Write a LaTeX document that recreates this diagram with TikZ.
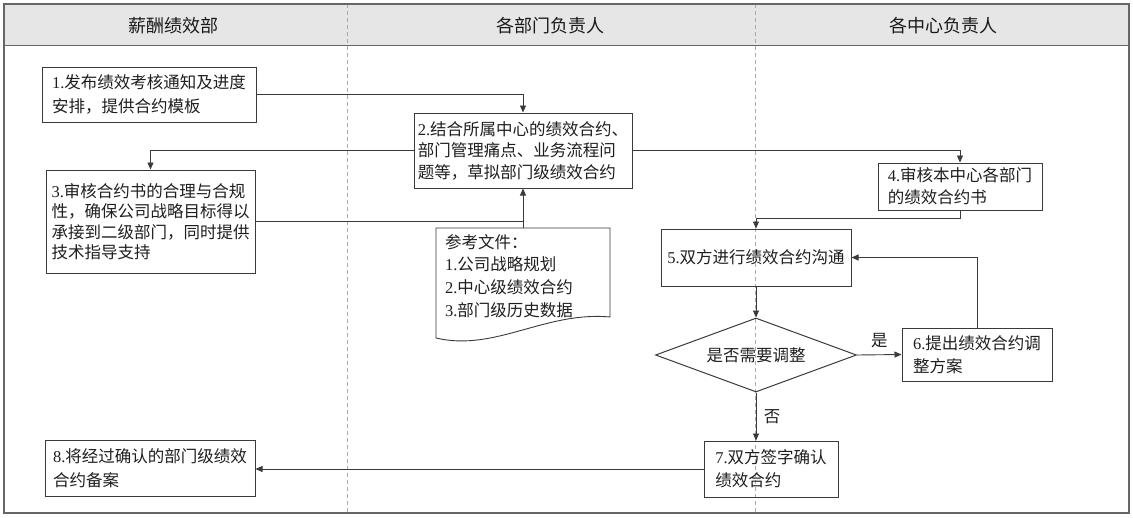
\documentclass[tikz,border=0pt]{standalone}
\usepackage{fontspec}
\setmainfont{Liberation Serif}
\newfontfamily\cjk{Noto Sans CJK SC}
\usetikzlibrary{arrows.meta,shapes.geometric,calc}
\newcommand\zh[1]{{\cjk #1}}
\definecolor{linec}{HTML}{3A3A3A}
\definecolor{framec}{HTML}{666666}
\definecolor{headc}{HTML}{E6E6E6}
\definecolor{lanec}{HTML}{AAAAAA}
\definecolor{txtc}{HTML}{1E1E1E}
\begin{document}
\begin{tikzpicture}[x=1pt,y=-1pt,
  box/.style={draw=linec, line width=1pt, rectangle, align=left, inner sep=0pt, text=txtc},
  fs/.style={font=\fontsize{16.5}{#1}\selectfont},
  arr/.style={draw=linec, line width=0.9pt, -{Triangle[length=7pt,width=6pt]}},
  ln/.style={draw=linec, line width=0.9pt},
  lbl/.style={text=txtc, font=\cjk\fontsize{16.5}{20}\selectfont},
  head/.style={font=\cjk\fontsize{18}{20}\selectfont, text=black!90}]
\useasboundingbox (0,0) rectangle (1133,517);
% frame and header
\fill[headc] (4,4) rectangle (1129,45);
\draw[lanec, line width=0.6pt, dash pattern=on 4pt off 3pt] (347,4) -- (347,513) (755,4) -- (755,513);
\draw[framec, line width=1pt] (4,45) -- (1129,45);
\draw[framec, line width=1.6pt] (4,4) rectangle (1129,513);
\node[head] (h1) at (173,26) {薪酬绩效部};
\node[head] (h2) at (550,26) {各部门负责人};
\node[head] (h3) at (943,26) {各中心负责人};
% boxes
\node[box, fs=24, minimum width=214pt, minimum height=55pt] (b1) at (149,94.5)
  {1.\zh{发布绩效考核通知及进度}\\\zh{安排，提供合约模板}};
\node[box, fs=21.5, minimum width=218pt, minimum height=75pt] (b2) at (523,150.5)
  {2.\zh{结合所属中心的绩效合约、}\\\zh{部门管理痛点、业务流程问}\\\zh{题等，草拟部门级绩效合约}};
\node[box, fs=20.5, minimum width=209pt, minimum height=103pt] (b3) at (150.5,221.5)
  {3.\zh{审核合约书的合理与合规}\\\zh{性，确保公司战略目标得以}\\\zh{承接到二级部门，同时提供}\\\zh{技术指导支持}};
\node[align=left, text width=156pt, inner xsep=9pt, inner ysep=6pt, anchor=north, fs=22.7, text=txtc] (doc) at (523,228)
  {\zh{参考文件：}\\1.\zh{公司战略规划}\\2.\zh{中心级绩效合约}\\3.\zh{部门级历史数据}};
\draw[ln] (436,228) -- (610,228) -- (610,317) .. controls (545,311) and (495,352) .. (436,338) -- cycle;
\node[box, fs=22, minimum width=164pt, minimum height=47pt] (b4) at (960,186.5)
  {4.\zh{审核本中心各部门}\\\zh{的绩效合约书}};
\node[box, fs=22, minimum width=190pt, minimum height=57pt] (b5) at (756,257.5)
  {5.\zh{双方进行绩效合约沟通}};
\node[draw=linec, line width=1pt, diamond, aspect=2.7, inner sep=0pt, minimum width=201pt, minimum height=74pt, text=txtc, font=\cjk\fontsize{16.5}{20}\selectfont] (dia) at (756,355)
  {是否需要调整};
\node[box, fs=23, minimum width=150pt, minimum height=53pt] (b6) at (977,354.5)
  {6.\zh{提出绩效合约调}\\\zh{整方案}};
\node[box, fs=23, minimum width=134pt, minimum height=56pt] (b7) at (771,469)
  {7.\zh{双方签字确认}\\\zh{绩效合约}};
\node[box, fs=24, minimum width=210pt, minimum height=56pt] (b8) at (150,468.5)
  {8.\zh{将经过确认的部门级绩效}\\\zh{合约备案}};
% connectors
\draw[arr] (b1.east) -| (b2.north);
\draw[arr] (b2.west) -| (b3.north);
\draw[ln] (b3.east) -- (b3.east -| b2.south);
\draw[arr] (doc.north) -- (b2.south);
\draw[arr] (b2.east) -| (b4.north);
\coordinate (b4d) at ($(b4.south)+(0,8)$);
\draw[arr] (b4.south) -- (b4d) -| (b5.north);
\draw[arr] (b5.south) -- (dia.north);
\draw[arr] (dia.east) -- node[lbl, above=3pt] (yes) {是} (b6.west);
\draw[arr] (b6.north) |- (b5.east);
\draw[arr] (dia.south) -- node[lbl, right=4pt] (no) {否} (dia.south |- b7.north);
\draw[arr] (b7.west) -- (b7.west -| b8.east);
\end{tikzpicture}
\end{document}
